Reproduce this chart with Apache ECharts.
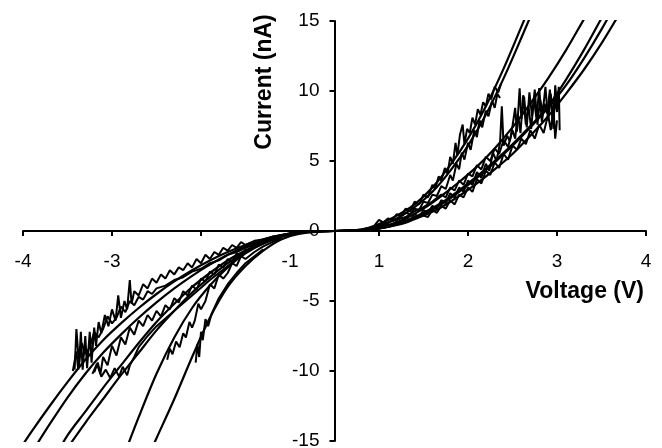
<!DOCTYPE html>
<html>
<head>
<meta charset="utf-8">
<script src="https://cdn.jsdelivr.net/npm/echarts@6/dist/echarts.min.js"></script>
<style>html,body{margin:0;padding:0;background:#fff}#c{width:662px;height:448px}</style>
</head>
<body>
<div id="c"></div>
<script>
// Axis ticks (axis units; the y axis crosses midway between the "-1" and "1" ticks).
// The "-2" label is hidden under the data in the reference, so it is left blank.
const xTickValues = [-3.5, -2.5, -1.5, -0.5, 0.5, 1.5, 2.5, 3.5];
const xTickLabels = ['-4', '-3', '', '-1', '1', '2', '3', '4'];
const yMin = -15, yMax = 15, yStep = 5;

// Positive branch: fitted curves
const fitA1 = [[0,0],[0.3,0.1],[0.5,0.5],[0.7,1.1],[0.9,1.9],[1.1,3.1],[1.3,4.7],[1.5,6.6],[1.7,8.9],[1.9,11.6],[2.1,14.6],[2.2,16.1]];
const fitA2 = [[0,0],[0.3,0.1],[0.5,0.4],[0.7,0.9],[0.9,1.7],[1.1,2.8],[1.3,4.3],[1.5,6.1],[1.7,8.3],[1.9,10.9],[2.1,13.8],[2.3,16.8]];
const fitB1 = [[0,0],[0.4,0.1],[0.6,0.4],[0.8,0.9],[1.0,1.6],[1.2,2.5],[1.4,3.5],[1.6,4.6],[1.8,5.9],[2.0,7.4],[2.2,9.1],[2.4,10.9],[2.6,12.9],[2.8,15.1],[2.9,16.2]];
const fitB2 = [[0,0],[0.4,0.1],[0.6,0.3],[0.8,0.7],[1.0,1.3],[1.2,2.0],[1.4,2.9],[1.6,3.9],[1.8,5.0],[2.0,6.2],[2.2,7.5],[2.4,8.9],[2.6,10.8],[2.8,12.9],[3.0,15.2],[3.1,16.4]];
const fitB3 = [[0,0],[0.4,0.1],[0.6,0.3],[0.8,0.7],[1.0,1.2],[1.2,1.9],[1.4,2.8],[1.6,3.8],[1.8,4.9],[2.0,6.1],[2.2,7.4],[2.4,8.8],[2.6,10.4],[2.8,12.3],[3.0,14.4],[3.2,16.7]];
const fitB4 = [[0,0],[0.4,0.1],[0.6,0.3],[0.8,0.6],[1.0,1.1],[1.2,1.7],[1.4,2.5],[1.6,3.4],[1.8,4.4],[2.0,5.5],[2.2,6.8],[2.4,8.2],[2.6,9.8],[2.8,11.5],[3.0,13.4],[3.2,15.5]];

// Positive branch: measured (noisy) sweeps
const measPos1 = [[0.45,0.4],[0.5,0.8],[0.55,0.6],[0.6,0.9],[0.65,0.8],[0.7,1.2],[0.75,1.1],[0.8,1.6],[0.85,1.4],[0.9,2.1],[0.95,1.9],[1.0,2.6],[1.05,2.4],[1.1,3.3],[1.13,3.0],[1.17,3.9],[1.2,3.6],[1.24,4.5],[1.27,4.1],[1.3,5.3],[1.33,4.8],[1.36,6.3],[1.38,5.4],[1.41,6.9],[1.44,7.6],[1.46,6.2],[1.49,7.3],[1.52,7.0],[1.55,8.1],[1.58,7.6],[1.61,8.7],[1.64,8.3],[1.67,9.2],[1.7,8.9],[1.73,9.8],[1.76,9.4],[1.8,10.3],[1.84,9.9],[1.87,10.5]];
const measPos2 = [[0.4,0.2],[0.5,0.3],[0.6,0.5],[0.65,0.4],[0.7,0.7],[0.75,0.6],[0.8,0.9],[0.85,0.8],[0.9,1.2],[0.95,1.0],[1.0,1.5],[1.05,1.3],[1.1,1.8],[1.15,1.6],[1.2,2.2],[1.25,2.0],[1.3,2.7],[1.35,2.4],[1.4,3.1],[1.45,2.8],[1.5,3.6],[1.55,3.3],[1.6,4.2],[1.65,3.8],[1.7,4.8],[1.74,4.3],[1.78,5.6],[1.82,5.0],[1.86,6.3],[1.88,8.9],[1.9,6.1],[1.94,6.8],[1.97,6.4],[2.0,7.5],[2.03,8.8],[2.05,7.1],[2.08,10.2],[2.1,8.0],[2.13,9.6],[2.16,7.4],[2.19,9.9],[2.22,8.2],[2.25,10.1],[2.28,7.6],[2.31,9.4],[2.34,8.5],[2.37,10.3],[2.4,7.9],[2.43,9.8],[2.46,7.3],[2.48,10.4],[2.5,9.0]];
const measPos3 = [[0.5,0.2],[0.6,0.3],[0.7,0.5],[0.8,0.7],[0.9,0.9],[1.0,1.1],[1.05,1.0],[1.1,1.5],[1.15,1.3],[1.2,1.8],[1.25,1.6],[1.3,2.2],[1.35,1.9],[1.4,2.6],[1.45,2.4],[1.5,3.1],[1.55,2.8],[1.6,3.7],[1.65,3.4],[1.7,4.3],[1.75,4.0],[1.8,4.9],[1.85,4.5],[1.9,5.5],[1.95,5.1],[2.0,6.1],[2.05,5.8],[2.1,6.6],[2.15,6.2],[2.2,7.2],[2.25,6.6],[2.3,7.6],[2.35,7.0],[2.4,8.3],[2.43,7.2],[2.46,8.8],[2.48,6.6],[2.5,7.9]];
const measPos4 = [[0.6,0.6],[0.7,0.8],[0.8,1.3],[0.85,1.2],[0.9,1.6],[0.95,1.5],[1.0,2.1],[1.05,2.0],[1.1,2.6],[1.15,2.5],[1.2,3.2],[1.25,3.0],[1.3,4.0],[1.33,3.6],[1.37,4.8],[1.4,4.4],[1.43,5.6],[1.46,5.1],[1.5,6.3],[1.53,5.8],[1.57,7.2],[1.6,6.7],[1.63,7.9],[1.66,7.4],[1.7,8.6],[1.73,8.2],[1.77,9.3],[1.8,8.8],[1.83,9.8],[1.86,9.5]];
const measPos5 = [[0.7,0.8],[0.8,1.0],[0.9,1.4],[1.0,1.7],[1.1,2.1],[1.2,2.6],[1.25,2.4],[1.3,3.1],[1.35,2.9],[1.4,3.6],[1.45,3.3],[1.5,4.1],[1.55,3.9],[1.6,4.7],[1.65,4.4],[1.7,5.3],[1.75,5.0],[1.8,5.9],[1.85,5.5],[1.9,6.5],[1.95,6.0],[2.0,7.2],[2.03,6.6],[2.06,8.4],[2.09,7.0],[2.12,9.7],[2.15,7.6],[2.18,8.9],[2.21,7.3],[2.24,9.5],[2.27,8.0],[2.3,10.2],[2.33,7.8],[2.36,9.1],[2.39,8.4],[2.42,10.1],[2.45,8.0],[2.47,9.6],[2.5,8.5],[2.52,10.3],[2.53,7.2]];

// Negative branch: fitted curves
const fitN1 = [[0,0],[-0.4,-0.1],[-0.6,-0.3],[-0.8,-0.6],[-1.0,-1.0],[-1.2,-1.5],[-1.4,-2.1],[-1.6,-2.8],[-1.8,-3.6],[-2.0,-4.5],[-2.2,-5.5],[-2.4,-6.6],[-2.6,-7.8],[-2.8,-9.2],[-3.0,-10.8],[-3.2,-12.5],[-3.4,-14.3],[-3.6,-16.2]];
const fitN2 = [[0,0],[-0.4,-0.1],[-0.6,-0.3],[-0.8,-0.7],[-1.0,-1.1],[-1.2,-1.7],[-1.4,-2.4],[-1.6,-3.2],[-1.8,-4.1],[-2.0,-5.1],[-2.2,-6.2],[-2.4,-7.4],[-2.6,-8.7],[-2.8,-10.2],[-3.0,-11.9],[-3.2,-13.8],[-3.4,-15.8]];
const fitN3 = [[0,0],[-0.4,-0.1],[-0.6,-0.4],[-0.8,-0.8],[-1.0,-1.4],[-1.2,-2.1],[-1.4,-3.0],[-1.6,-4.0],[-1.8,-5.2],[-2.0,-6.5],[-2.2,-8.0],[-2.4,-9.6],[-2.6,-11.2],[-2.8,-12.9],[-3.0,-14.6],[-3.2,-16.8]];
const fitN4 = [[0,0],[-0.4,-0.1],[-0.6,-0.4],[-0.8,-0.9],[-1.0,-1.5],[-1.2,-2.3],[-1.4,-3.3],[-1.6,-4.4],[-1.8,-5.7],[-2.0,-7.1],[-2.2,-8.7],[-2.4,-10.3],[-2.6,-12.0],[-2.8,-13.7],[-3.0,-15.5]];
const fitN5 = [[0,0],[-0.4,-0.1],[-0.6,-0.4],[-0.8,-0.9],[-1.0,-1.6],[-1.2,-2.6],[-1.4,-3.9],[-1.6,-5.5],[-1.8,-7.6],[-2.0,-10.2],[-2.2,-13.3],[-2.4,-16.6]];
const fitN6 = [[0,0],[-0.4,-0.2],[-0.6,-0.6],[-0.8,-1.4],[-1.0,-2.5],[-1.2,-4.0],[-1.4,-6.2],[-1.6,-9.0],[-1.8,-12.0],[-2.0,-14.8],[-2.2,-17.6]];

// Negative branch: measured (noisy) sweeps
const measNeg1 = [[-0.5,-0.2],[-0.6,-0.3],[-0.7,-0.4],[-0.8,-0.6],[-0.9,-0.7],[-1.0,-1.0],[-1.05,-0.8],[-1.1,-1.2],[-1.15,-1.0],[-1.2,-1.4],[-1.25,-1.2],[-1.3,-1.7],[-1.35,-1.5],[-1.4,-2.0],[-1.45,-1.7],[-1.5,-2.3],[-1.55,-2.0],[-1.6,-2.6],[-1.65,-2.3],[-1.7,-2.8],[-1.75,-2.6],[-1.8,-3.1],[-1.85,-2.8],[-1.9,-3.4],[-1.95,-3.1],[-2.0,-3.7],[-2.05,-3.4],[-2.1,-4.1],[-2.15,-3.8],[-2.2,-4.6],[-2.25,-4.3],[-2.28,-5.2],[-2.3,-3.5],[-2.33,-5.6],[-2.36,-5.0],[-2.4,-6.2],[-2.43,-4.6],[-2.46,-6.4],[-2.5,-5.6],[-2.54,-6.8],[-2.58,-6.0],[-2.62,-7.3],[-2.65,-6.5],[-2.68,-8.2],[-2.7,-6.9],[-2.73,-9.4],[-2.75,-7.2],[-2.78,-9.8],[-2.8,-7.5],[-2.83,-9.9],[-2.85,-7.2],[-2.87,-9.6],[-2.9,-7.0],[-2.92,-9.9]];
const measNeg2 = [[-0.6,-0.4],[-0.7,-0.6],[-0.8,-0.8],[-0.9,-1.1],[-0.95,-1.4],[-1.0,-1.3],[-1.05,-1.8],[-1.1,-1.6],[-1.15,-2.2],[-1.2,-2.0],[-1.25,-2.6],[-1.3,-2.4],[-1.35,-3.1],[-1.4,-2.9],[-1.45,-3.6],[-1.5,-3.4],[-1.55,-4.2],[-1.6,-3.9],[-1.65,-4.6],[-1.7,-4.3],[-1.75,-5.1],[-1.8,-4.8],[-1.85,-5.6],[-1.9,-5.3],[-1.95,-6.1],[-2.0,-5.7],[-2.05,-6.4],[-2.1,-6.0],[-2.15,-6.8],[-2.2,-6.4],[-2.25,-7.4],[-2.3,-6.9],[-2.35,-8.1],[-2.4,-7.6],[-2.45,-8.9],[-2.5,-8.2],[-2.55,-9.6],[-2.6,-9.0],[-2.63,-10.2],[-2.66,-9.4],[-2.7,-10.1]];
const measNeg3 = [[-1.0,-1.5],[-1.2,-2.5],[-1.4,-3.5],[-1.6,-4.6],[-1.8,-5.7],[-2.0,-6.8],[-2.1,-7.5],[-2.2,-8.3],[-2.25,-9.0],[-2.3,-9.6],[-2.33,-10.3],[-2.38,-9.7],[-2.42,-10.4],[-2.47,-9.8],[-2.52,-10.5],[-2.57,-9.9],[-2.62,-10.4],[-2.67,-9.5],[-2.72,-10.2]];
const measNeg4 = [[-0.6,-0.5],[-0.7,-0.8],[-0.8,-1.1],[-0.9,-1.5],[-1.0,-2.0],[-1.05,-1.8],[-1.1,-2.5],[-1.15,-2.3],[-1.2,-3.0],[-1.25,-3.4],[-1.3,-3.1],[-1.35,-4.1],[-1.4,-3.8],[-1.45,-5.0],[-1.5,-5.6],[-1.53,-5.2],[-1.57,-6.4],[-1.6,-6.9],[-1.63,-6.5],[-1.67,-7.6],[-1.7,-7.3],[-1.74,-8.3],[-1.78,-7.9],[-1.82,-8.8],[-1.85,-8.4],[-1.88,-9.2]];
const measNeg5 = [[-0.8,-1.3],[-1.0,-2.3],[-1.1,-3.0],[-1.2,-3.8],[-1.3,-4.8],[-1.38,-5.9],[-1.42,-6.8],[-1.45,-6.3],[-1.48,-7.8],[-1.5,-7.2],[-1.52,-9.0],[-1.54,-8.1],[-1.56,-9.4]];
const measNeg6 = [[-0.6,-0.4],[-0.8,-0.8],[-1.0,-1.2],[-1.1,-1.5],[-1.2,-1.7],[-1.3,-2.1],[-1.4,-2.3],[-1.5,-2.7],[-1.6,-2.9],[-1.7,-3.3],[-1.8,-3.5],[-1.9,-3.9],[-2.0,-4.1],[-2.05,-4.5],[-2.1,-4.3],[-2.15,-4.9],[-2.2,-4.7],[-2.25,-5.3],[-2.3,-5.0],[-2.35,-5.8],[-2.4,-5.4],[-2.45,-6.2],[-2.5,-6.6],[-2.55,-6.1],[-2.6,-7.0],[-2.65,-7.6],[-2.7,-7.2],[-2.75,-8.3],[-2.8,-8.8],[-2.84,-8.0],[-2.88,-9.9],[-2.9,-8.6],[-2.94,-10.0]];

const fits = [fitA1, fitA2, fitB1, fitB2, fitB3, fitB4, fitN1, fitN2, fitN3, fitN4, fitN5, fitN6];
const measured = [measPos1, measPos2, measPos3, measPos4, measPos5, measNeg1, measNeg2, measNeg3, measNeg4, measNeg5, measNeg6];

const W = 662, H = 448;
const G = { left: 23, right: 16, top: 21, bottom: 7 };
const plotW = W - G.left - G.right, plotH = H - G.top - G.bottom;

const chart = echarts.init(document.getElementById('c'), null, { renderer: 'canvas' });
const FONT = '"Liberation Sans", Arial, sans-serif';

const series = [];
fits.forEach(d => series.push({
  type: 'line', data: d, showSymbol: false, smooth: 0.3, clip: true,
  lineStyle: { color: '#000', width: 2.2 }, silent: true
}));
measured.forEach(d => series.push({
  type: 'line', data: d, showSymbol: false, smooth: false, clip: true,
  lineStyle: { color: '#000', width: 2 }, silent: true
}));

chart.setOption({
  animation: false,
  backgroundColor: '#fff',
  grid: { left: G.left, right: G.right, top: G.top, bottom: G.bottom, containLabel: false, outerBoundsMode: 'none' },
  xAxis: {
    type: 'value', min: -3.5, max: 3.5, position: 'bottom', offset: -plotH / 2,
    splitLine: { show: false },
    axisLine: { onZero: false, lineStyle: { color: '#000', width: 2 } },
    axisTick: { customValues: xTickValues, length: 5, lineStyle: { color: '#000', width: 2 } },
    axisLabel: {
      customValues: xTickValues, margin: 21, color: '#000', fontSize: 19, fontFamily: FONT,
      formatter: v => { const i = xTickValues.findIndex(t => Math.abs(t - v) < 1e-6); return i >= 0 ? xTickLabels[i] : ''; }
    }
  },
  yAxis: {
    type: 'value', min: yMin, max: yMax, interval: yStep, position: 'left', offset: -plotW / 2,
    splitLine: { show: false },
    axisLine: { onZero: false, lineStyle: { color: '#000', width: 2 } },
    axisTick: { length: 5, lineStyle: { color: '#000', width: 2 } },
    axisLabel: { margin: 15, color: '#000', fontSize: 19, fontFamily: FONT }
  },
  graphic: [
    { type: 'text', x: 265, y: 82, rotation: Math.PI / 2,
      style: { text: 'Current (nA)', fill: '#000', font: 'bold 23px ' + FONT, align: 'center', verticalAlign: 'middle', textAlign: 'center', textVerticalAlign: 'middle' } },
    { type: 'text', x: 644, y: 292,
      style: { text: 'Voltage (V)', fill: '#000', font: 'bold 23px ' + FONT, align: 'right', verticalAlign: 'middle', textAlign: 'right', textVerticalAlign: 'middle' } }
  ],
  series: series
});
</script>
</body>
</html>
